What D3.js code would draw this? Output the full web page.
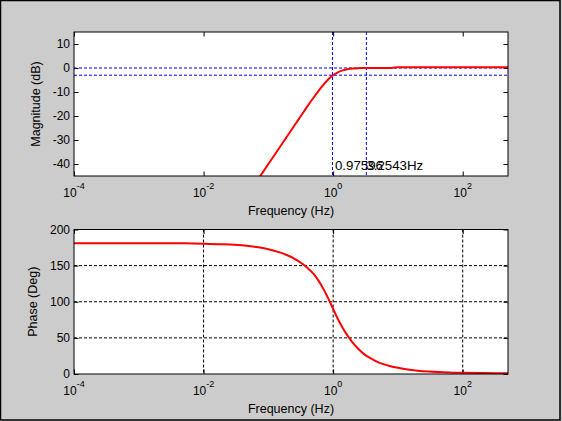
<!DOCTYPE html>
<html>
<head>
<meta charset="utf-8">
<script src="https://cdn.jsdelivr.net/npm/d3@7"></script>
<style>
  body { margin: 0; background: #cccccc; }
  svg { display: block; font-family: 'Liberation Sans', Arial, sans-serif; }
</style>
</head>
<body>
<svg id="board" width="562" height="421"></svg>
<script>
// magnitude response (Hz, dB)
let magFreq = [0.05, 0.07, 0.1, 0.15, 0.2, 0.3, 0.4, 0.5, 0.6, 0.7, 0.8, 0.9, 1.0, 1.1, 1.2, 1.4, 1.6, 1.8, 2, 2.5, 3, 5, 8, 10, 20, 50, 100, 200, 500]
let magDb = [-52, -46.2, -40, -33, -28, -21, -16, -12.3, -9.4, -7.1, -5.4, -4.0, -3.0, -2.3, -1.7, -1.0, -0.6, -0.35, -0.2, -0.05, 0, 0, 0.05, 0.3, 0.3, 0.3, 0.3, 0.3, 0.3]

// phase response (Hz, deg)
let phaseFreq = [0.0001, 0.001, 0.005, 0.01, 0.02, 0.03, 0.05, 0.07, 0.1, 0.15, 0.2, 0.25, 0.3, 0.4, 0.5, 0.6, 0.7, 0.8, 0.9, 1.0, 1.1, 1.2, 1.4, 1.6, 1.8, 2.0, 2.5, 3, 4, 5, 7, 10, 15, 20, 30, 50, 70, 100, 200, 500]
let phaseDeg = [181, 181, 180.8, 180.4, 179.6, 178.8, 177, 175.3, 172.8, 168.3, 164, 159.8, 155.5, 147, 138.5, 128.5, 118.5, 108.5, 99, 90, 82, 75, 64, 55.5, 49, 43.5, 34, 27.5, 20.5, 16, 11.8, 8.6, 6, 4.6, 3.3, 2.3, 1.9, 1.6, 1.3, 1.1]

// ticks and markers
let freqTicks = [1e-4, 1e-2, 1, 1e2]
let magTicks = [-40, -30, -20, -10, 0, 10]
let phaseTicks = [0, 50, 100, 150, 200]
let phaseGrid = [50, 100, 150]
let markerFreqs = [0.97596, 3.2543]
let markerLabels = ['0.97596', '3.2543Hz']
let levelLines = [0, -3]

let board = d3.select('#board')

let left = 74, right = 508
let top1 = 32, bottom1 = 176
let top2 = 229.5, bottom2 = 374

let x = d3.scaleLog().domain([1e-4, 500]).range([left, right])
let yMag = d3.scaleLinear().domain([-45, 15]).range([bottom1, top1])
let yPhase = d3.scaleLinear().domain([0, 200]).range([bottom2, top2])

// window frame
board.append('rect')
    .attr('x', 0.5).attr('y', 0.5)
    .attr('width', 559.5).attr('height', 419.5)
    .attr('fill', '#cccccc')
    .attr('stroke', '#000').attr('stroke-width', 1.5)

let drawPanel = (y, y0, y1, yTicks, ylabel, ylabelX, clipId) => {
    board.append('rect')
        .attr('x', left).attr('y', y1)
        .attr('width', right - left).attr('height', y0 - y1)
        .attr('fill', '#fff')

    board.append('clipPath').attr('id', clipId)
        .append('rect')
        .attr('x', left).attr('y', y1)
        .attr('width', right - left).attr('height', y0 - y1)

    // inward ticks on all four sides
    let tick = 4.5
    let axes = [
        [d3.axisBottom(x).tickValues(freqTicks), `translate(0,${y0})`],
        [d3.axisTop(x).tickValues(freqTicks), `translate(0,${y1})`],
        [d3.axisLeft(y).tickValues(yTicks), `translate(${left},0)`],
        [d3.axisRight(y).tickValues(yTicks), `translate(${right},0)`]
    ]
    axes.forEach(([ax, tr]) => {
        let g = board.append('g')
            .attr('transform', tr)
            .call(ax.tickSize(-tick).tickFormat(''))
        g.select('.domain').remove()
        g.selectAll('line').attr('stroke', '#000')
    })

    // y tick labels
    board.append('g').selectAll('text')
        .data(yTicks)
        .enter()
        .append('text')
        .attr('x', left - 4)
        .attr('y', (d) => y(d))
        .attr('dy', '0.36em')
        .attr('text-anchor', 'end')
        .attr('font-size', 12)
        .text((d) => d)

    // x tick labels as 10^n
    let xl = board.append('g').selectAll('text')
        .data(freqTicks)
        .enter()
        .append('text')
        .attr('x', (d) => x(d))
        .attr('y', y0 + 20.5)
        .attr('text-anchor', 'middle')
        .attr('font-size', 12)
    xl.append('tspan').text('10')
    xl.append('tspan')
        .attr('dy', -7.5)
        .attr('font-size', 9)
        .text((d) => Math.round(Math.log10(d)))

    board.append('text')
        .attr('x', (left + right) / 2)
        .attr('y', y0 + 38.5)
        .attr('text-anchor', 'middle')
        .attr('font-size', 12.5)
        .text('Frequency (Hz)')

    board.append('text')
        .attr('transform', `translate(${ylabelX},${(y0 + y1) / 2}) rotate(-90)`)
        .attr('text-anchor', 'middle')
        .attr('font-size', 12.5)
        .text(ylabel)
}

let line = (y) => d3.line()
    .x((d) => x(d[0]))
    .y((d) => y(d[1]))
    .curve(d3.curveMonotoneX)

// ---- magnitude panel ----
drawPanel(yMag, bottom1, top1, magTicks, 'Magnitude (dB)', 40, 'clipMag')

board.append('g').selectAll('line')
    .data(levelLines)
    .enter()
    .append('line')
    .attr('x1', left).attr('x2', right)
    .attr('y1', (d) => yMag(d)).attr('y2', (d) => yMag(d))
    .attr('stroke', '#0000ff')
    .attr('stroke-dasharray', '3,2')

board.append('g').selectAll('line')
    .data(markerFreqs)
    .enter()
    .append('line')
    .attr('x1', (d) => x(d)).attr('x2', (d) => x(d))
    .attr('y1', top1).attr('y2', bottom1)
    .attr('stroke', '#0000ff')
    .attr('stroke-dasharray', '3,2')

board.append('path')
    .datum(magFreq.map((f, i) => [f, magDb[i]]))
    .attr('clip-path', 'url(#clipMag)')
    .attr('d', line(yMag))
    .attr('fill', 'none')
    .attr('stroke', '#ff0000')
    .attr('stroke-width', 2)

board.append('g').selectAll('text')
    .data(markerFreqs)
    .enter()
    .append('text')
    .attr('x', (d, i) => x(d) + (i === 0 ? 2.5 : 0))
    .attr('y', yMag(-40) + 6)
    .attr('font-size', 13.3)
    .text((d, i) => markerLabels[i])

// frame on top
board.append('rect')
    .attr('x', left).attr('y', top1)
    .attr('width', right - left).attr('height', bottom1 - top1)
    .attr('fill', 'none').attr('stroke', '#000')

// ---- phase panel ----
drawPanel(yPhase, bottom2, top2, phaseTicks, 'Phase (Deg)', 37, 'clipPhase')

let grid = board.append('g')
    .attr('stroke', '#000')
    .attr('stroke-dasharray', '3,2')
grid.selectAll('.gx')
    .data(freqTicks.slice(1))
    .enter()
    .append('line')
    .attr('x1', (d) => x(d)).attr('x2', (d) => x(d))
    .attr('y1', top2).attr('y2', bottom2)
grid.selectAll('.gy')
    .data(phaseGrid)
    .enter()
    .append('line')
    .attr('x1', left).attr('x2', right)
    .attr('y1', (d) => yPhase(d)).attr('y2', (d) => yPhase(d))

board.append('path')
    .datum(phaseFreq.map((f, i) => [f, phaseDeg[i]]))
    .attr('clip-path', 'url(#clipPhase)')
    .attr('d', line(yPhase))
    .attr('fill', 'none')
    .attr('stroke', '#ff0000')
    .attr('stroke-width', 2)

board.append('rect')
    .attr('x', left).attr('y', top2)
    .attr('width', right - left).attr('height', bottom2 - top2)
    .attr('fill', 'none').attr('stroke', '#000')
</script>
</body>
</html>
